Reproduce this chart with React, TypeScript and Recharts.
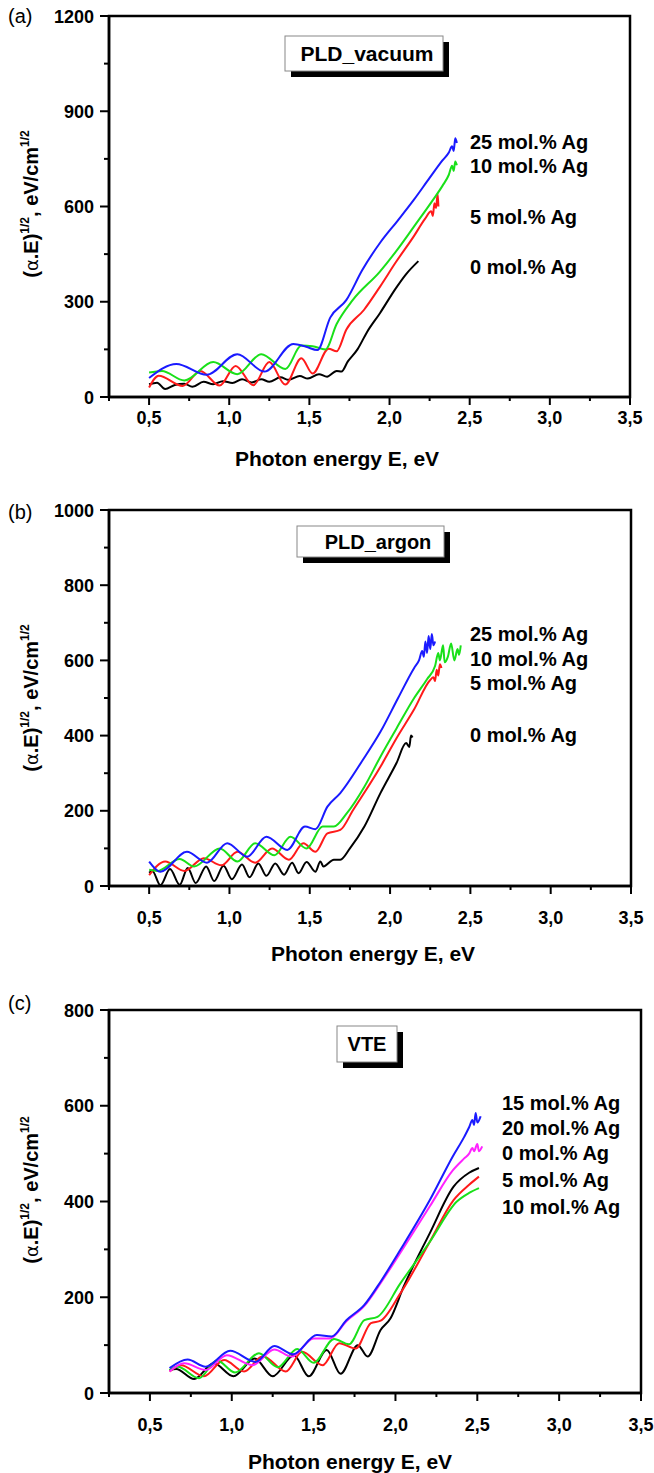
import React from 'react';
import { LineChart, Line, XAxis, YAxis, ReferenceArea } from 'recharts';

const FONT = "'Liberation Sans', Arial, Helvetica, sans-serif";

// ---------- shared x axis ----------
const xTicks = [0.25, 0.5, 0.75, 1, 1.25, 1.5, 1.75, 2, 2.25, 2.5, 2.75, 3, 3.25, 3.5];
const xMajor = [0.5, 1, 1.5, 2, 2.5, 3, 3.5];
const xLabels = ['0,5', '1,0', '1,5', '2,0', '2,5', '3,0', '3,5'];
const xTitle = 'Photon energy E, eV';

// ---------- panel (a) PLD_vacuum ----------
const aYTicks = [0, 150, 300, 450, 600, 750, 900, 1050, 1200];
const aYMajor = [0, 300, 600, 900, 1200];
const aE0 = [0.5, 0.55, 0.6, 0.66, 0.72, 0.77, 0.84, 0.9, 0.96, 1.02, 1.08, 1.14, 1.2, 1.25, 1.32, 1.37, 1.44, 1.49, 1.56, 1.61, 1.67, 1.7, 1.74, 1.8, 1.86, 1.94, 2.04, 2.1, 2.18];
const aV0 = [40, 45, 25, 38, 42, 32, 48, 40, 50, 44, 56, 46, 56, 48, 62, 54, 66, 58, 72, 64, 82, 80, 112, 150, 205, 264, 343, 385, 428];
const aE5 = [0.5, 0.56, 0.71, 0.82, 0.94, 1.04, 1.15, 1.25, 1.35, 1.45, 1.52, 1.62, 1.67, 1.73, 1.84, 1.94, 2.04, 2.15, 2.22, 2.26, 2.27, 2.28, 2.29, 2.3, 2.305];
const aV5 = [30, 67, 35, 82, 36, 98, 37, 110, 39, 122, 74, 152, 144, 212, 274, 347, 425, 505, 560, 585, 570, 610, 595, 640, 600];
const aE10 = [0.5, 0.58, 0.72, 0.9, 1.05, 1.2, 1.35, 1.45, 1.52, 1.6, 1.67, 1.77, 1.94, 2.05, 2.15, 2.27, 2.33, 2.37, 2.39, 2.4, 2.41, 2.42];
const aV10 = [77, 82, 52, 110, 72, 135, 88, 162, 160, 150, 230, 305, 395, 465, 535, 620, 665, 700, 728, 712, 742, 730];
const aE25 = [0.5, 0.67, 0.86, 1.05, 1.22, 1.4, 1.48, 1.55, 1.63, 1.73, 1.83, 1.94, 2.05, 2.15, 2.25, 2.33, 2.37, 2.39, 2.4, 2.41, 2.42];
const aV25 = [60, 104, 70, 135, 80, 167, 158, 148, 250, 305, 400, 485, 555, 620, 690, 745, 770, 790, 775, 815, 800];

// ---------- panel (b) PLD_argon ----------
const bYTicks = [0, 100, 200, 300, 400, 500, 600, 700, 800, 900, 1000];
const bYMajor = [0, 200, 400, 600, 800, 1000];
const bE0 = [0.5, 0.52, 0.57, 0.63, 0.69, 0.74, 0.79, 0.855, 0.905, 0.963, 1.015, 1.078, 1.125, 1.18, 1.23, 1.285, 1.34, 1.39, 1.43, 1.48, 1.535, 1.566, 1.585, 1.65, 1.69, 1.75, 1.84, 1.94, 2.04, 2.1, 2.12, 2.13, 2.14];
const bV0 = [35, 40, 2, 45, 3, 48, 8, 52, 13, 54, 18, 57, 23, 60, 27, 60, 30, 62, 34, 64, 38, 65, 52, 70, 70, 100, 158, 247, 327, 380, 370, 400, 395];
const bE5 = [0.5, 0.6, 0.72, 0.84, 0.95, 1.05, 1.16, 1.265, 1.37, 1.46, 1.535, 1.61, 1.69, 1.77, 1.94, 2.04, 2.15, 2.25, 2.27, 2.28, 2.29, 2.3, 2.31, 2.32];
const bV5 = [29, 65, 40, 74, 55, 91, 62, 100, 70, 114, 91, 140, 149, 202, 317, 393, 470, 548, 555, 545, 575, 560, 590, 580];
const bE10 = [0.5, 0.55, 0.69, 0.78, 0.94, 1.05, 1.16, 1.28, 1.38, 1.48, 1.58, 1.65, 1.73, 1.84, 1.94, 2.04, 2.15, 2.23, 2.28, 2.3, 2.31, 2.33, 2.34, 2.36, 2.38, 2.4, 2.42, 2.43, 2.44];
const bV10 = [43, 40, 72, 52, 100, 65, 114, 82, 131, 100, 158, 158, 193, 264, 344, 419, 500, 550, 585, 620, 600, 640, 595, 610, 645, 600, 630, 615, 640];
const bE25 = [0.5, 0.57, 0.735, 0.86, 0.986, 1.11, 1.23, 1.36, 1.47, 1.535, 1.61, 1.69, 1.83, 1.94, 2.05, 2.15, 2.18, 2.2, 2.21, 2.22, 2.23, 2.24, 2.25, 2.26, 2.27, 2.28];
const bV25 = [65, 38, 91, 62, 114, 78, 131, 96, 158, 151, 211, 247, 335, 410, 500, 580, 600, 625, 610, 650, 620, 665, 630, 670, 640, 650];

// ---------- panel (c) VTE ----------
const cYTicks = [0, 100, 200, 300, 400, 500, 600, 700, 800];
const cYMajor = [0, 200, 400, 600, 800];
const cE0 = [0.62, 0.66, 0.77, 0.89, 1.01, 1.14, 1.25, 1.38, 1.47, 1.58, 1.665, 1.77, 1.83, 1.91, 1.97, 2.05, 2.21, 2.355, 2.45, 2.51];
const cV0 = [48, 50, 29, 62, 35, 72, 35, 79, 35, 90, 40, 100, 76, 132, 156, 222, 334, 431, 460, 470];
const cE5 = [0.62, 0.69, 0.83, 0.953, 1.075, 1.19, 1.33, 1.43, 1.555, 1.656, 1.757, 1.85, 1.91, 2.03, 2.21, 2.355, 2.45, 2.51];
const cV5 = [45, 58, 35, 69, 45, 77, 45, 86, 58, 104, 93, 146, 151, 208, 316, 403, 435, 452];
const cE10 = [0.62, 0.67, 0.8, 0.91, 1.02, 1.166, 1.28, 1.4, 1.5, 1.625, 1.716, 1.81, 1.89, 2.03, 2.21, 2.375, 2.45, 2.51];
const cV10 = [48, 55, 31, 68, 43, 83, 54, 92, 63, 113, 102, 152, 159, 229, 316, 400, 418, 428];
const cE15 = [0.62, 0.73, 0.84, 0.99, 1.146, 1.26, 1.375, 1.52, 1.61, 1.7, 1.81, 1.91, 2.03, 2.21, 2.35, 2.42, 2.45, 2.47, 2.48, 2.49, 2.5, 2.52];
const cV15 = [52, 70, 55, 88, 65, 98, 81, 121, 118, 152, 184, 233, 299, 403, 494, 535, 555, 570, 560, 585, 565, 578];
const cE20 = [0.62, 0.71, 0.84, 0.97, 1.126, 1.26, 1.365, 1.5, 1.6, 1.7, 1.81, 1.91, 2.03, 2.21, 2.35, 2.42, 2.45, 2.47, 2.48, 2.5, 2.51, 2.53];
const cV20 = [45, 62, 48, 79, 58, 91, 76, 114, 114, 150, 182, 230, 293, 390, 465, 490, 500, 512, 505, 520, 505, 515];

// ---------- labels ----------
const aLegend = ['25 mol.% Ag', '10 mol.% Ag', '5 mol.% Ag', '0 mol.% Ag'];
const bLegend = ['25 mol.% Ag', '10 mol.% Ag', '5 mol.% Ag', '0 mol.% Ag'];
const cLegend = ['15 mol.% Ag', '20 mol.% Ag', '0 mol.% Ag', '5 mol.% Ag', '10 mol.% Ag'];

const BLACK = '#000000';
const RED = '#ff1a1a';
const GREEN = '#19e019';
const BLUE = '#1a1aff';
const MAGENTA = '#ff22ff';

const zip = (e: number[], v: number[]) => e.map((x, i) => ({ e: x, v: v[i] }));

type Series = { key: string; color: string; data: { e: number; v: number }[] };

const aSeries: Series[] = [
  { key: 'a0', color: BLACK, data: zip(aE0, aV0) },
  { key: 'a5', color: RED, data: zip(aE5, aV5) },
  { key: 'a10', color: GREEN, data: zip(aE10, aV10) },
  { key: 'a25', color: BLUE, data: zip(aE25, aV25) },
];
const bSeries: Series[] = [
  { key: 'b0', color: BLACK, data: zip(bE0, bV0) },
  { key: 'b5', color: RED, data: zip(bE5, bV5) },
  { key: 'b10', color: GREEN, data: zip(bE10, bV10) },
  { key: 'b25', color: BLUE, data: zip(bE25, bV25) },
];
const cSeries: Series[] = [
  { key: 'c0', color: BLACK, data: zip(cE0, cV0) },
  { key: 'c5', color: RED, data: zip(cE5, cV5) },
  { key: 'c10', color: GREEN, data: zip(cE10, cV10) },
  { key: 'c20', color: MAGENTA, data: zip(cE20, cV20) },
  { key: 'c15', color: BLUE, data: zip(cE15, cV15) },
];

type PanelProps = {
  top: number;
  height: number;
  plot: { left: number; right: number; top: number; bottom: number };
  yMax: number;
  yTicks: number[];
  yMajor: number[];
  series: Series[];
  letter: string;
  letterY: number;
  box: { text: string; x: number; y: number; w: number; h: number; tx: number; fs: number };
  legend: string[];
  legendX: number;
  legendY: number[];
  xLabelGap: number;
  xTitleX: number;
  xTitleY: number;
  yTitleCy: number;
};

const YAW = 40; // y-axis width inside margin
const XAH = 30; // x-axis height inside margin

function Panel(p: PanelProps) {
  const margin = {
    top: p.plot.top - p.top,
    bottom: p.top + p.height - p.plot.bottom - XAH,
    left: p.plot.left - YAW,
    right: 654 - p.plot.right,
  };
  const XTick = (props: any) => {
    const { x, y, payload } = props;
    const v = payload.value;
    const idx = xMajor.findIndex((m) => Math.abs(m - v) < 1e-6);
    const major = idx >= 0;
    return (
      <g>
        <line x1={x} y1={y} x2={x} y2={y + (major ? 8 : 4)} stroke="#000" strokeWidth={2} />
        {major && (
          <text x={x} y={y + p.xLabelGap} textAnchor="middle" fontFamily={FONT} fontWeight="bold" fontSize={18} fill="#000">
            {xLabels[idx]}
          </text>
        )}
      </g>
    );
  };
  const YTick = (props: any) => {
    const { x, y, payload } = props;
    const v = payload.value;
    const major = p.yMajor.includes(v);
    return (
      <g>
        <line x1={x - (major ? 9 : 5)} y1={y} x2={x} y2={y} stroke="#000" strokeWidth={2} />
        {major && (
          <text x={x - 15} y={y + 6.5} textAnchor="end" fontFamily={FONT} fontWeight="bold" fontSize={18} fill="#000">
            {String(v)}
          </text>
        )}
      </g>
    );
  };
  const cy = p.yTitleCy - p.top;
  return (
    <div style={{ position: 'absolute', left: 0, top: p.top, width: 654, height: p.height }}>
      <LineChart width={654} height={p.height} margin={margin}>
        <XAxis
          type="number"
          dataKey="e"
          domain={[0.25, 3.5]}
          ticks={xTicks}
          interval={0}
          tickSize={0}
          tickMargin={0}
          tickLine={false}
          height={XAH}
          axisLine={{ stroke: '#000', strokeWidth: 2.5 }}
          tick={XTick}
          allowDataOverflow
        />
        <YAxis
          type="number"
          domain={[0, p.yMax]}
          ticks={p.yTicks}
          interval={0}
          tickSize={0}
          tickMargin={0}
          tickLine={false}
          width={YAW}
          axisLine={{ stroke: '#000', strokeWidth: 2.5 }}
          tick={YTick}
          allowDataOverflow
        />
        <ReferenceArea x1={0.25} x2={3.5} y1={0} y2={p.yMax} fill="none" stroke="#000" strokeWidth={2.5} fillOpacity={0} />
        {p.series.map((s) => (
          <Line
            key={s.key}
            data={s.data}
            dataKey="v"
            type="monotone"
            stroke={s.color}
            strokeWidth={2}
            dot={false}
            activeDot={false}
            isAnimationActive={false}
          />
        ))}
      </LineChart>
      <svg
        width={654}
        height={p.height}
        style={{ position: 'absolute', left: 0, top: 0, pointerEvents: 'none' }}
      >
        <text x={8} y={p.letterY - p.top + 7} fontFamily={FONT} fontSize={20} fill="#000">
          {p.letter}
        </text>
        <text
          transform={`translate(38,${cy}) rotate(-90)`}
          x={0}
          y={0}
          textAnchor="middle"
          fontFamily={FONT}
          fontWeight="bold"
          fontSize={20}
          fill="#000"
        >
          <tspan>(</tspan>
          <tspan fontWeight="normal" fontFamily="'DejaVu Sans', sans-serif" fontSize={18}>α</tspan>
          <tspan>.E)</tspan>
          <tspan dy={-9} fontSize={12}>1/2</tspan>
          <tspan dy={9}>, eV/cm</tspan>
          <tspan dy={-9} fontSize={12}>1/2</tspan>
        </text>
        <text x={p.xTitleX} y={p.xTitleY - p.top + 7.5} textAnchor="middle" fontFamily={FONT} fontWeight="bold" fontSize={21} fill="#000">
          {xTitle}
        </text>
        <rect x={p.box.x + 6} y={p.box.y - p.top + 6} width={p.box.w} height={p.box.h} fill="#000" />
        <rect x={p.box.x} y={p.box.y - p.top} width={p.box.w} height={p.box.h} fill="#fff" stroke="#888" strokeWidth={1} />
        <text
          x={p.box.tx}
          y={p.box.y - p.top + p.box.h / 2 + p.box.fs * 0.36}
          textAnchor="middle"
          fontFamily={FONT}
          fontWeight="bold"
          fontSize={p.box.fs}
          fill="#000"
        >
          {p.box.text}
        </text>
        {p.legend.map((t, i) => (
          <text key={t + i} x={p.legendX} y={p.legendY[i] - p.top + 7} fontFamily={FONT} fontWeight="bold" fontSize={20} fill="#000">
            {t}
          </text>
        ))}
      </svg>
    </div>
  );
}

export default function App() {
  return (
    <div style={{ position: 'absolute', left: 0, top: 0, width: 654, height: 1473, background: '#fff', overflow: 'hidden' }}>
      <Panel
        top={0}
        height={490}
        plot={{ left: 109, right: 630, top: 16, bottom: 397 }}
        yMax={1200}
        yTicks={aYTicks}
        yMajor={aYMajor}
        series={aSeries}
        letter="(a)"
        letterY={16}
        box={{ text: 'PLD_vacuum', x: 285, y: 36, w: 158, h: 35, tx: 367, fs: 21 }}
        legend={aLegend}
        legendX={470}
        legendY={[142, 166, 217, 267]}
        xLabelGap={27}
        xTitleX={337}
        xTitleY={458}
        yTitleCy={204}
      />
      <Panel
        top={490}
        height={490}
        plot={{ left: 109, right: 631, top: 510, bottom: 886 }}
        yMax={1000}
        yTicks={bYTicks}
        yMajor={bYMajor}
        series={bSeries}
        letter="(b)"
        letterY={512}
        box={{ text: 'PLD_argon', x: 297, y: 526, w: 147, h: 31, tx: 378, fs: 20 }}
        legend={bLegend}
        legendX={470}
        legendY={[634, 659, 683, 735]}
        xLabelGap={38}
        xTitleX={373}
        xTitleY={953}
        yTitleCy={698}
      />
      <Panel
        top={980}
        height={493}
        plot={{ left: 109, right: 641, top: 1010, bottom: 1393 }}
        yMax={800}
        yTicks={cYTicks}
        yMajor={cYMajor}
        series={cSeries}
        letter="(c)"
        letterY={1003}
        box={{ text: 'VTE', x: 337, y: 1026, w: 60, h: 36, tx: 367, fs: 20 }}
        legend={cLegend}
        legendX={502}
        legendY={[1103, 1128, 1153, 1180, 1207]}
        xLabelGap={38}
        xTitleX={350}
        xTitleY={1461}
        yTitleCy={1190}
      />
    </div>
  );
}
